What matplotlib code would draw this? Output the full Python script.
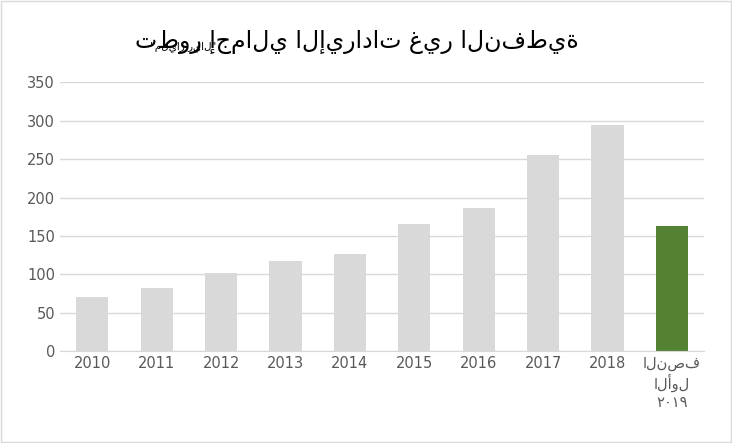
import matplotlib.pyplot as plt

# data
years = ['2010', '2011', '2012', '2013', '2014', '2015', '2016', '2017', '2018', 'النصف\nالأول\n٢٠١٩']
revenue = [71, 83, 102, 118, 127, 166, 186, 256, 294, 163]
colors = ['#d9d9d9'] * 9 + ['#548235']

title_main = 'تطور إجمالي الإيرادات غير النفطية'
title_unit = '"مليار ريال"'

fig = plt.figure(figsize=(7.32, 4.43), dpi=100)
fig.patches.append(plt.Rectangle((0.002, 0.002), 0.996, 0.996, transform=fig.transFigure,
                                 fill=False, edgecolor='#d9d9d9', lw=1))
ax = fig.add_axes([0.082, 0.207, 0.88, 0.607])

x = range(len(years))
ax.bar(x, revenue, width=0.5, color=colors)
ax.set_ylim(0, 350)
ax.set_yticks(range(0, 351, 50))
ax.set_xlim(-0.5, len(years) - 0.5)
ax.set_xticks(list(x))
ax.set_xticklabels(years, fontsize=10.5, color='#595959')
ax.tick_params(axis='y', labelsize=10.5, colors='#595959', length=0)
ax.tick_params(axis='x', length=0)
ax.grid(axis='y', color='#d9d9d9', lw=1)
ax.set_axisbelow(True)
for s in ['top', 'right', 'left']:
    ax.spines[s].set_visible(False)
ax.spines['bottom'].set_color('#d9d9d9')

fig.text(0.79, 0.905, title_main, fontsize=17, ha='right', va='center')
fig.text(0.205, 0.895, title_unit, fontsize=7.5, ha='left', va='center')

fig.savefig('out.png')
